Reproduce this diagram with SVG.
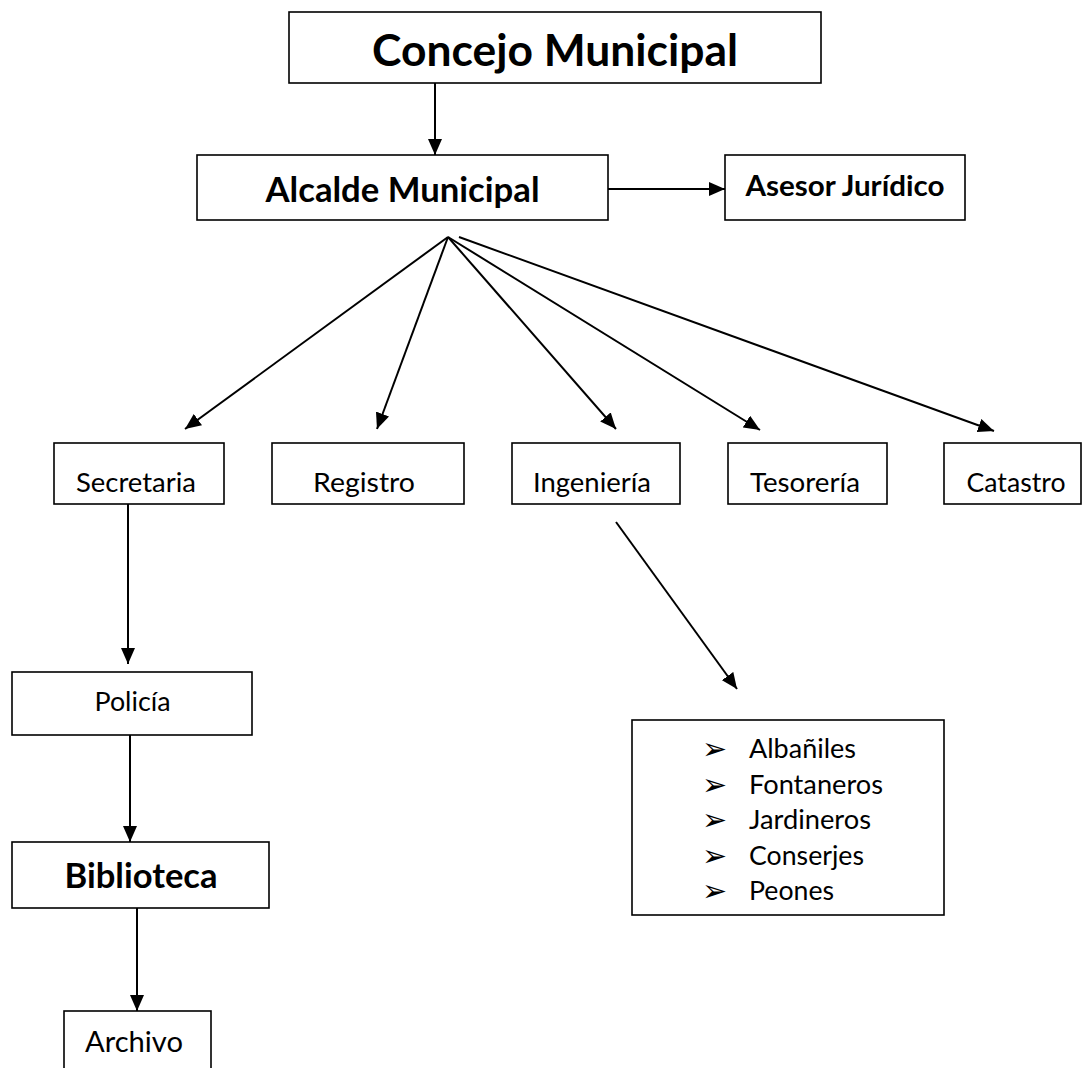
<svg xmlns="http://www.w3.org/2000/svg" width="1083" height="1068" viewBox="0 0 1083 1068">
<defs>
<marker id="ah" markerUnits="userSpaceOnUse" markerWidth="16" markerHeight="14" refX="16" refY="7" orient="auto">
<path d="M0,0 L16,7 L0,14 z" fill="#000"/>
</marker>
<style>
.box{fill:#fff;stroke:#000;stroke-width:1.6}
.t{font-family:Lato,"Open Sans",sans-serif;fill:#000;text-anchor:middle}
.l{font-family:Lato,"Open Sans",sans-serif;fill:#000;font-size:26.5px}
.b{font-weight:bold}
.r{font-size:26.5px}
.c{stroke:#000;stroke-width:2;fill:none;marker-end:url(#ah)}
.bul{font-family:"DejaVu Sans",sans-serif;font-size:30px;fill:#000}
</style>
</defs>
<rect width="1083" height="1068" fill="#fff"/>
<g id="connectors">
<line class="c" x1="435" y1="83" x2="435" y2="155"/>
<line class="c" x1="608" y1="189" x2="725" y2="189"/>
<line class="c" x1="448" y1="237" x2="185" y2="429"/>
<line class="c" x1="448" y1="237" x2="377" y2="429"/>
<line class="c" x1="448" y1="237" x2="616" y2="429"/>
<line class="c" x1="448" y1="237" x2="760" y2="430"/>
<line class="c" x1="459" y1="237" x2="994" y2="431"/>
<line class="c" x1="128" y1="497" x2="128" y2="664"/>
<line class="c" x1="130" y1="735" x2="130" y2="842"/>
<line class="c" x1="137" y1="908" x2="137" y2="1011"/>
<line class="c" x1="616" y1="522" x2="737" y2="689"/>
</g>
<g id="concejo">
<rect class="box" x="289" y="12" width="532" height="71"/>
<text class="t b" x="555" y="66" font-size="43" textLength="366" lengthAdjust="spacingAndGlyphs">Concejo Municipal</text>
</g>
<g id="alcalde">
<rect class="box" x="197" y="155" width="411" height="65"/>
<text class="t b" x="402.5" y="202" font-size="33.5" textLength="274" lengthAdjust="spacingAndGlyphs">Alcalde Municipal</text>
</g>
<g id="asesor">
<rect class="box" x="725" y="155" width="240" height="65"/>
<text class="t b" x="845" y="196" font-size="29" textLength="199" lengthAdjust="spacingAndGlyphs">Asesor Jurídico</text>
</g>
<g id="secretaria">
<rect class="box" x="54" y="443" width="170" height="61"/>
<text class="t r" x="136" y="492" textLength="120" lengthAdjust="spacingAndGlyphs">Secretaria</text>
</g>
<g id="registro">
<rect class="box" x="272" y="443" width="192" height="61"/>
<text class="t r" x="364" y="492" textLength="102" lengthAdjust="spacingAndGlyphs">Registro</text>
</g>
<g id="ingenieria">
<rect class="box" x="512" y="443" width="168" height="61"/>
<text class="t r" x="592" y="492" textLength="118" lengthAdjust="spacingAndGlyphs">Ingeniería</text>
</g>
<g id="tesoreria">
<rect class="box" x="728" y="443" width="159" height="61"/>
<text class="t r" x="805" y="492" textLength="110" lengthAdjust="spacingAndGlyphs">Tesorería</text>
</g>
<g id="catastro">
<rect class="box" x="944" y="443" width="137" height="61"/>
<text class="t r" x="1016" y="492" textLength="99" lengthAdjust="spacingAndGlyphs">Catastro</text>
</g>
<g id="policia">
<rect class="box" x="12" y="672" width="240" height="63"/>
<text class="t r" x="132.5" y="711" textLength="76" lengthAdjust="spacingAndGlyphs">Policía</text>
</g>
<g id="biblioteca">
<rect class="box" x="12" y="842" width="257" height="66"/>
<text class="t b" x="141" y="888" font-size="33.5" textLength="153" lengthAdjust="spacingAndGlyphs">Biblioteca</text>
</g>
<g id="archivo">
<rect class="box" x="64" y="1011" width="147" height="70"/>
<text class="t" x="134" y="1052" font-size="29" textLength="98" lengthAdjust="spacingAndGlyphs">Archivo</text>
</g>
<g id="personal">
<rect class="box" x="632" y="720" width="312" height="195"/>
<text class="bul" x="702" y="759">&#x27A2;</text>
<text class="bul" x="702" y="795">&#x27A2;</text>
<text class="bul" x="702" y="830">&#x27A2;</text>
<text class="bul" x="702" y="866">&#x27A2;</text>
<text class="bul" x="702" y="901">&#x27A2;</text>
<text class="l" x="749" y="758" textLength="107" lengthAdjust="spacingAndGlyphs">Albañiles</text>
<text class="l" x="749" y="794" textLength="134" lengthAdjust="spacingAndGlyphs">Fontaneros</text>
<text class="l" x="749" y="829" textLength="122" lengthAdjust="spacingAndGlyphs">Jardineros</text>
<text class="l" x="749" y="865" textLength="115" lengthAdjust="spacingAndGlyphs">Conserjes</text>
<text class="l" x="749" y="900" textLength="85" lengthAdjust="spacingAndGlyphs">Peones</text>
</g>
</svg>
